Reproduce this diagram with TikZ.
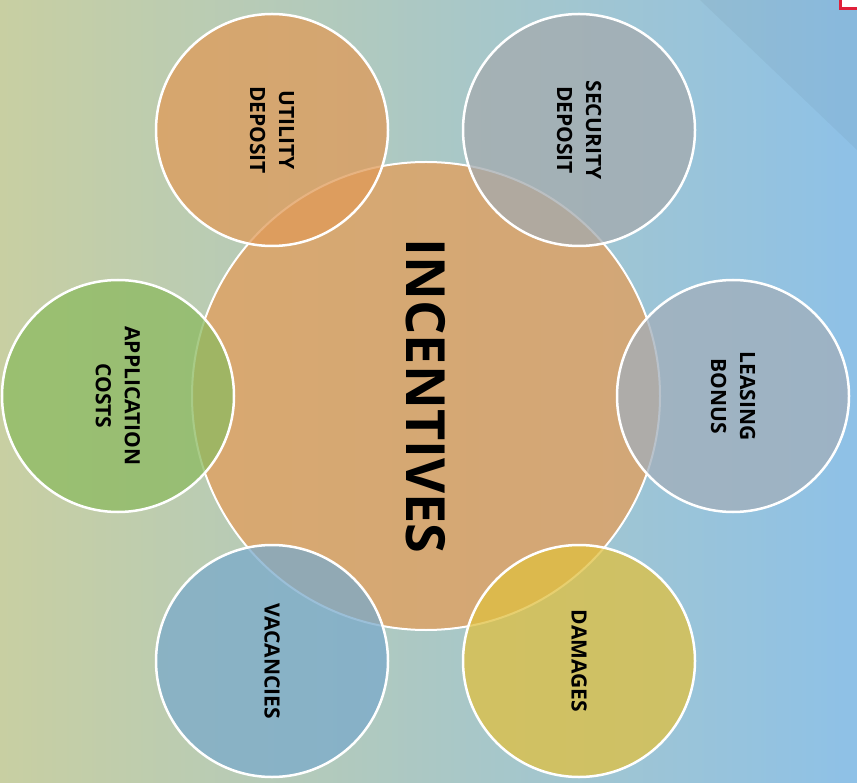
\documentclass[tikz,border=0pt]{standalone}
\usepackage{fontspec}
\setmainfont{Open Sans}
\usepackage{xcolor}
\usepackage{tikz}

\definecolor{bgL}{HTML}{C8CFA2}
\definecolor{bgM}{HTML}{B1CBBE}
\definecolor{bgR}{HTML}{8EC1E7}
\definecolor{core}{HTML}{E0A060}
\definecolor{utilC}{HTML}{E09A58}
\definecolor{secC}{HTML}{A4AAAE}
\definecolor{leaseC}{HTML}{A2AEBA}
\definecolor{damC}{HTML}{E0C040}
\definecolor{vacC}{HTML}{7AAACB}
\definecolor{appC}{HTML}{8CBA60}
\definecolor{tabred}{HTML}{E0203A}

\tikzset{
  ball/.style={circle, draw=white, line width=2.5pt, minimum size=232pt,
    fill opacity=0.75, text opacity=1, rotate=-90, align=center,
    font=\bfseries\fontsize{21}{29}\selectfont},
  hub/.style={circle, draw=white, line width=2pt, minimum size=468pt,
    fill=core, fill opacity=0.8, text opacity=1, rotate=-90,
    font=\bfseries\fontsize{54}{60}\selectfont}
}

\begin{document}
\begin{tikzpicture}[x=1pt,y=-1pt]
\useasboundingbox (0,0) rectangle (857,783);
%背景
\shade[left color=bgL, middle color=bgM, right color=bgR] (0,0) rectangle (857,783);
\fill[black, opacity=0.04] (700,0) -- (857,0) -- (857,150) -- cycle;
\draw[tabred, line width=3pt, fill=white] (840.5,-5) rectangle (862,8.5);
%中心
\node[hub] (incent) at (426,396) {INCENTIVES};
%周围
\node[ball, fill=utilC] (util) at (272,130) {UTILITY\\DEPOSIT};
\node[ball, fill=secC] (sec) at (579,130) {SECURITY\\DEPOSIT};
\node[ball, fill=leaseC] (lease) at (733,396) {LEASING\\BONUS};
\node[ball, fill=damC] (dam) at (579,661) {DAMAGES};
\node[ball, fill=vacC] (vac) at (272,661) {VACANCIES};
\node[ball, fill=appC] (app) at (118,396) {APPLICATION\\COSTS};
\end{tikzpicture}
\end{document}
